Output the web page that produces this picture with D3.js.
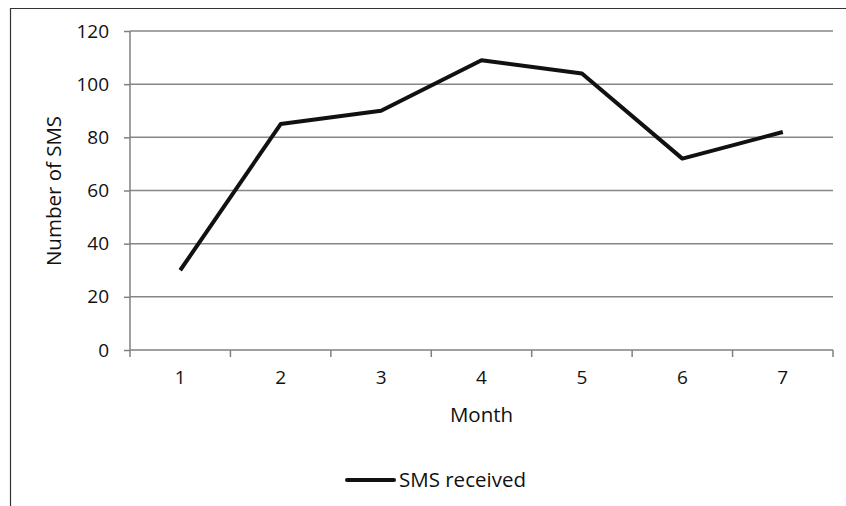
<!DOCTYPE html>
<html>
<head>
<meta charset="utf-8">
<script src="https://cdn.jsdelivr.net/npm/d3@7"></script>
<style>
  body { margin: 0; background: #fff; }
  text { font-family: "Open Sans", "Noto Sans", sans-serif; fill: #111; }
</style>
</head>
<body>
<div id="chart"></div>
<script>
// chart data
var months = ["1", "2", "3", "4", "5", "6", "7"];
var smsReceived = [30, 85, 90, 109, 104, 72, 82];
var yTicks = [0, 20, 40, 60, 80, 100, 120];

var svgWidth = 846;
var svgHeight = 506;

var margin = { top: 31, right: 13, bottom: 156, left: 130 };
var width = svgWidth - margin.left - margin.right;
var height = svgHeight - margin.top - margin.bottom;

var svg = d3.select("#chart")
  .append("svg")
  .attr("width", svgWidth)
  .attr("height", svgHeight);

// outer frame (left and top edges only visible)
svg.append("path")
  .attr("d", "M10.5,506 L10.5,8.5 L846,8.5")
  .attr("fill", "none")
  .attr("stroke", "#333")
  .attr("stroke-width", 1.2);

var chartGroup = svg.append("g")
  .attr("transform", `translate(${margin.left}, ${margin.top})`);

var xScale = d3.scaleBand()
  .domain(months)
  .range([0, width]);

var yScale = d3.scaleLinear()
  .domain([0, 120])
  .range([height, 0]);

// gridlines
chartGroup.selectAll("line.grid")
  .data(yTicks.filter(d => d > 0))
  .enter()
  .append("line")
  .classed("grid", true)
  .attr("x1", 0)
  .attr("x2", width)
  .attr("y1", d => yScale(d))
  .attr("y2", d => yScale(d))
  .attr("stroke", "#868686")
  .attr("stroke-width", 1.5);

// y axis
var leftAxis = d3.axisLeft(yScale)
  .tickValues(yTicks)
  .tickSize(6)
  .tickPadding(15);

var yAxis = chartGroup.append("g").call(leftAxis);
yAxis.select(".domain").attr("stroke", "#808080").attr("stroke-width", 1.5).attr("d", `M0,0V${height}`);
yAxis.selectAll(".tick line").attr("stroke", "#808080").attr("stroke-width", 1.5);
yAxis.selectAll(".tick text").attr("font-size", "19px").attr("fill", "#111");

// x axis: ticks between categories
var bottomAxis = d3.axisBottom(xScale).tickSize(0).tickPadding(21);
var xAxis = chartGroup.append("g")
  .attr("transform", `translate(0, ${height})`)
  .call(bottomAxis);
xAxis.select(".domain").attr("stroke", "#808080").attr("stroke-width", 1.5).attr("d", `M0,0H${width}`);
xAxis.selectAll(".tick text").attr("font-size", "19px").attr("fill", "#111");

var boundaries = months.map(m => xScale(m) + xScale.bandwidth()).concat([0]);
xAxis.selectAll("line.sep")
  .data(boundaries)
  .enter()
  .append("line")
  .classed("sep", true)
  .attr("x1", d => d)
  .attr("x2", d => d)
  .attr("y1", 0)
  .attr("y2", 7)
  .attr("stroke", "#808080")
  .attr("stroke-width", 1.5);

// the line
var line = d3.line()
  .x((d, i) => xScale(months[i]) + xScale.bandwidth() / 2)
  .y(d => yScale(d));

chartGroup.append("path")
  .datum(smsReceived)
  .attr("d", line)
  .attr("fill", "none")
  .attr("stroke", "#111")
  .attr("stroke-width", 4)
  .attr("stroke-linejoin", "round");

// axis titles
chartGroup.append("text")
  .attr("x", width / 2)
  .attr("y", height + 72)
  .attr("text-anchor", "middle")
  .attr("font-size", "20.5px")
  .text("Month");

chartGroup.append("text")
  .attr("transform", "rotate(-90)")
  .attr("x", -160)
  .attr("y", -69)
  .attr("text-anchor", "middle")
  .attr("font-size", "20.5px")
  .text("Number of SMS");

// legend
var legend = svg.append("g").attr("transform", "translate(347, 480)");
legend.append("line")
  .attr("x1", 0)
  .attr("x2", 47)
  .attr("y1", 0)
  .attr("y2", 0)
  .attr("stroke", "#111")
  .attr("stroke-width", 4)
  .attr("stroke-linecap", "round");
legend.append("text")
  .attr("x", 52)
  .attr("y", 0)
  .attr("dy", "0.35em")
  .attr("font-size", "20.5px")
  .text("SMS received");
</script>
</body>
</html>
